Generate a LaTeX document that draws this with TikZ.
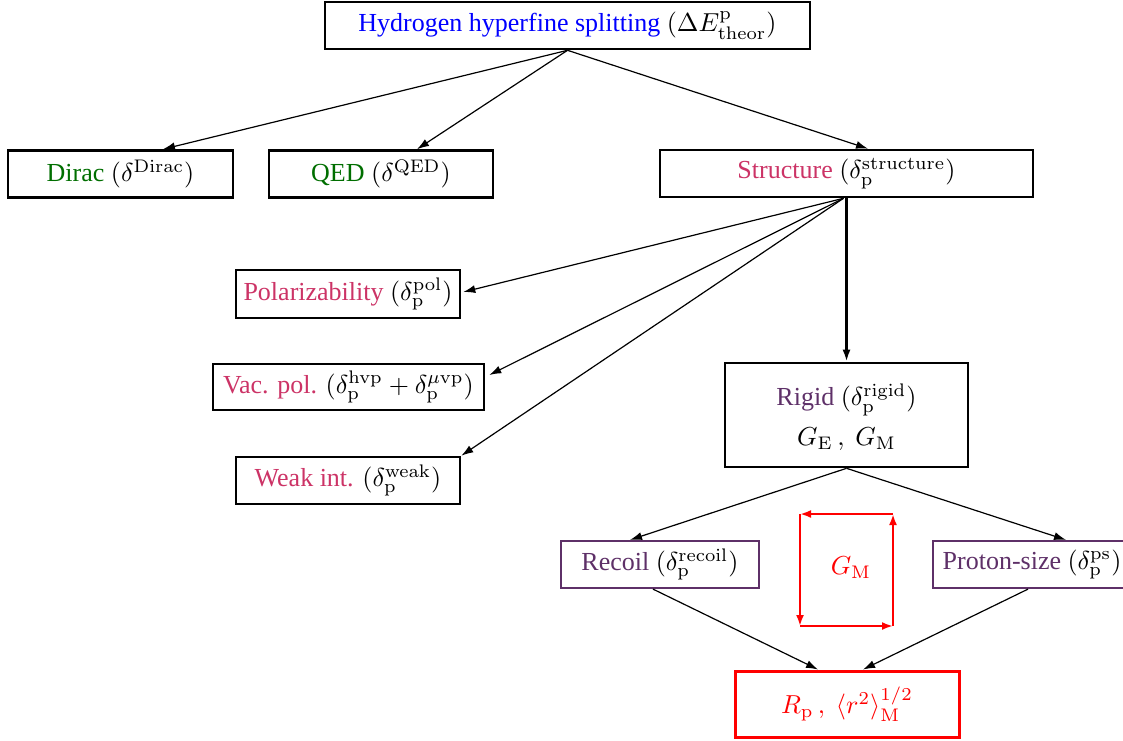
\documentclass[tikz,border=0pt]{standalone}
\usepackage[no-math]{fontspec}
\setmainfont{Liberation Serif}
\usepackage{graphicx}
\usetikzlibrary{arrows.meta}
\definecolor{hblue}{RGB}{0,0,255}
\definecolor{dgreen}{RGB}{0,110,0}
\definecolor{spink}{RGB}{204,51,102}
\definecolor{rpurple}{RGB}{94,48,104}
\definecolor{rred}{RGB}{255,0,0}
\newcommand{\sx}[1]{\scalebox{2.6}{#1}}
\tikzset{
  box/.style={draw=black, line width=2.6pt, minimum height=47pt, inner sep=0pt, anchor=center},
  pbox/.style={draw=rpurple, line width=2.2pt, minimum height=47pt, inner sep=0pt, anchor=center},
  conn/.style={line width=1.2pt, -{Latex[length=12pt,width=8pt]}},
  thickconn/.style={line width=2.8pt, -{Latex[length=12pt,width=8pt]}},
  loopconn/.style={draw=rred, line width=2.6pt, -{Latex[length=11pt,width=8pt]}},
}
\begin{document}
\begin{tikzpicture}[x=1pt,y=-1pt]
\useasboundingbox (0,0) rectangle (1123,740);

\node[box, minimum width=485pt] (top) at (567.5,25.5)
  {\sx{\textcolor{hblue}{Hydrogen hyperfine splitting} $(\Delta E^{\mathrm{p}}_{\mathrm{theor}})$}};
\node[box, minimum width=225pt] (dirac) at (120.5,174)
  {\sx{\textcolor{dgreen}{Dirac} $(\delta^{\mathrm{Dirac}})$}};
\node[box, minimum width=224pt] (qed) at (381,174)
  {\sx{\textcolor{dgreen}{QED} $(\delta^{\mathrm{QED}})$}};
\node[box, minimum width=373pt] (struct) at (846.5,173.5)
  {\sx{\textcolor{spink}{Structure} $(\delta^{\mathrm{structure}}_{\mathrm{p}})$}};
\node[box, minimum width=224pt, minimum height=48pt] (pol) at (348,294)
  {\sx{\textcolor{spink}{Polarizability} $(\delta^{\mathrm{pol}}_{\mathrm{p}})$}};
\node[box, minimum width=271pt, minimum height=46pt] (vac) at (348.5,387)
  {\sx{\textcolor{spink}{Vac. pol.} $(\delta^{\mathrm{hvp}}_{\mathrm{p}}+\delta^{\mu\mathrm{vp}}_{\mathrm{p}})$}};
\node[box, minimum width=224pt] (weak) at (348,480.5)
  {\sx{\textcolor{spink}{Weak int.} $(\delta^{\mathrm{weak}}_{\mathrm{p}})$}};
\node[box, minimum width=243pt, minimum height=104pt] (rigid) at (846.5,415)
  {\sx{\begin{tabular}{@{}c@{}}\rule{0pt}{12pt}\textcolor{rpurple}{Rigid} $(\delta^{\mathrm{rigid}}_{\mathrm{p}})$\\[3.4pt] $G_{\mathrm{E}}\,,\ G_{\mathrm{M}}$\end{tabular}}};
\node[pbox, minimum width=198pt] (recoil) at (660,564.5)
  {\sx{\textcolor{rpurple}{Recoil} $(\delta^{\mathrm{recoil}}_{\mathrm{p}})$}};
\node[pbox, minimum width=198pt] (ps) at (1032,564.5)
  {\sx{\textcolor{rpurple}{Proton-size} $(\delta^{\mathrm{ps}}_{\mathrm{p}})$}};
\node[box, draw=rred, line width=3pt, minimum width=224pt, minimum height=66pt, text=rred] (rp) at (847,704)
  {\sx{$R_{\mathrm{p}}\,,\ \langle r^2\rangle^{1/2}_{\mathrm{M}}$}};

% G_M loop
\node[text=rred, inner sep=0pt] (gm) at (851,568) {\sx{$G_{\mathrm{M}}$}};
\coordinate (gtl) at (800,514);
\coordinate (gtr) at (893,514);
\coordinate (gbl) at (800,626);
\coordinate (gbr) at (893,626);
\draw[loopconn] (gtr) -- (gtl);
\draw[loopconn] (gtl) -- (gbl);
\draw[loopconn] (gbl) -- (gbr);
\draw[loopconn] (gbr) -- (gtr);

% connectors
\draw[conn] (top.south) -- ([xshift=42.5pt]dirac.north);
\draw[conn] (top.south) -- ([xshift=36pt]qed.north);
\draw[conn] (top.south) -- ([xshift=21.5pt]struct.north);

\draw[conn] ([xshift=-3pt]struct.south) -- ([xshift=2pt,yshift=2pt]pol.east);
\draw[conn] ([xshift=-3pt]struct.south) -- ([xshift=4pt,yshift=12pt]vac.east);
\draw[conn] ([xshift=-3pt]struct.south) -- (weak.north east);
\draw[thickconn] (struct.south) -- (rigid.north);

\draw[conn] (rigid.south) -- ([xshift=-30pt]recoil.north);
\draw[conn] (rigid.south) -- ([xshift=34pt]ps.north);
\draw[conn] ([xshift=-7pt]recoil.south) -- ([xshift=-29pt]rp.north);
\draw[conn] ([xshift=-4pt]ps.south) -- ([xshift=16pt]rp.north);
\end{tikzpicture}
\end{document}
